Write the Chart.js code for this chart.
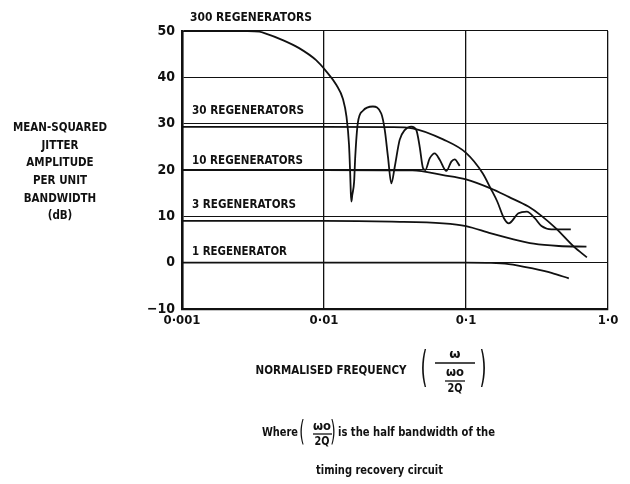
<!DOCTYPE html>
<html>
<head>
<meta charset="utf-8">
<script src="https://cdn.jsdelivr.net/npm/chart.js@4.4.1/dist/chart.umd.min.js"></script>
<style>
  html, body { margin: 0; padding: 0; background: #fff; }
  #wrap { width: 630px; height: 484px; position: relative; }
</style>
</head>
<body>
<div id="wrap"><canvas id="c" width="630" height="484"></canvas></div>
<script>
// Tick labels
const xTickValues = [0.001, 0.01, 0.1, 1];
const xTickLabels = ['0·001', '0·01', '0·1', '1·0'];
const yTickLabels = ['−10', '0', '10', '20', '30', '40', '50'];

// Jitter spectra (dB) against normalised frequency, one pair of arrays per chain length
const freq1 = [0.001, 0.01, 0.1, 0.15, 0.2, 0.3, 0.4, 0.53];
const db1   = [0, 0, 0, -0.05, -0.3, -1.3, -2.2, -3.4];

const freq3 = [0.001, 0.01, 0.03, 0.069, 0.1, 0.15, 0.2, 0.3, 0.45, 0.705];
const db3   = [9.0, 9.0, 8.85, 8.5, 7.9, 6.3, 5.3, 4.1, 3.6, 3.45];

const freq10 = [0.001, 0.01, 0.042, 0.069, 0.1, 0.149, 0.2, 0.275, 0.34, 0.43, 0.575, 0.71];
const db10   = [20, 20, 19.9, 18.9, 18.0, 16.05, 14.2, 12.1, 10.1, 7.4, 3.45, 1.15];

const freq30 = [0.001, 0.01, 0.03, 0.042, 0.069, 0.1, 0.131, 0.149, 0.166, 0.185, 0.2, 0.234, 0.268, 0.305, 0.34, 0.4, 0.547];
const db30   = [29.3, 29.3, 29.25, 29.0, 26.6, 23.7, 19.3, 16.05, 13.2, 9.6, 8.5, 10.65, 11.0, 9.6, 7.9, 7.2, 7.2];

const freq300 = [0.001, 0.0029, 0.0035, 0.00385, 0.00507, 0.00668, 0.0088, 0.0103, 0.0122, 0.0136,
                 0.0144, 0.0150, 0.0153, 0.01545, 0.0156, 0.0158, 0.0163, 0.0166, 0.0173, 0.0188,
                 0.0221, 0.0253, 0.0268, 0.0282, 0.0298, 0.0315, 0.0341, 0.037, 0.0412, 0.0447,
                 0.0472, 0.0498, 0.0517, 0.0555, 0.0602, 0.0653, 0.0727, 0.0788, 0.0832, 0.0903];
const db300   = [50, 50, 49.85, 49.5, 48.1, 46.3, 43.7, 41.4, 38.4, 35.3,
                 31.5, 25.5, 19, 15, 13.2, 14.5, 17.5, 22.9, 30.1, 32.8,
                 33.7, 32.2, 28.6, 22.9, 17.1, 20.7, 26.5, 28.6, 29.35, 28.6,
                 25.0, 20.4, 20.0, 22.5, 23.6, 22.2, 19.8, 21.8, 22.3, 20.9];

const seriesNames = ['1 REGENERATOR', '3 REGENERATORS', '10 REGENERATORS', '30 REGENERATORS', '300 REGENERATORS'];
const seriesFreq = [freq1, freq3, freq10, freq30, freq300];
const seriesDb = [db1, db3, db10, db30, db300];

const INK = '#111';
const COND = '"DejaVu Sans Condensed", "DejaVu Sans", sans-serif';

const datasets = seriesNames.map((name, k) => ({
  label: name,
  data: seriesFreq[k].map((f, i) => ({ x: f, y: seriesDb[k][i] })),
  borderColor: INK,
  borderWidth: 1.8,
  pointRadius: 0,
  fill: false,
  cubicInterpolationMode: 'monotone'
}));

// Curve names sit just above each low-frequency plateau (left edge, width, level in dB)
const curveLabels = [
  { text: '300 REGENERATORS', x: 190, w: 122, at: 52.9 },
  { text: '30 REGENERATORS', x: 192, w: 112, at: 32.7 },
  { text: '10 REGENERATORS', x: 192, w: 111, at: 21.9 },
  { text: '3 REGENERATORS', x: 192, w: 104, at: 12.4 },
  { text: '1 REGENERATOR', x: 192, w: 95, at: 2.3 }
];

// Draws text squeezed horizontally so it spans the given width
function fitText(ctx, text, x, y, width, align) {
  const natural = ctx.measureText(text).width;
  const k = width / natural;
  ctx.save();
  ctx.translate(x, y);
  ctx.scale(k, 1);
  ctx.textAlign = align;
  ctx.fillText(text, 0, 0);
  ctx.restore();
}

function drawParen(ctx, ch, x, y, size, stretch) {
  ctx.save();
  ctx.translate(x, y);
  ctx.scale(1, stretch);
  ctx.font = size + 'px "DejaVu Sans", sans-serif';
  ctx.textAlign = 'center';
  ctx.textBaseline = 'middle';
  ctx.fillText(ch, 0, 0);
  ctx.restore();
}

function bar(ctx, x0, x1, y) {
  ctx.beginPath();
  ctx.moveTo(x0, y);
  ctx.lineTo(x1, y);
  ctx.stroke();
}

const textPlugin = {
  id: 'figureText',
  afterDraw(chart) {
    const ctx = chart.ctx;
    const ys = chart.scales.y;
    ctx.save();
    ctx.fillStyle = INK;
    ctx.strokeStyle = INK;
    ctx.lineWidth = 1.3;

    // curve names
    ctx.font = 'bold 12px ' + COND;
    ctx.textBaseline = 'middle';
    curveLabels.forEach(l => fitText(ctx, l.text, l.x, ys.getPixelForValue(l.at), l.w, 'left'));

    // y-axis title
    ctx.font = 'bold 12.5px ' + COND;
    const yTitle = ['MEAN-SQUARED', 'JITTER', 'AMPLITUDE', 'PER UNIT', 'BANDWIDTH', '(dB)'];
    const squeeze = 94 / ctx.measureText(yTitle[0]).width;
    yTitle.forEach((t, i) => fitText(ctx, t, 60, 128 + i * 17.6, ctx.measureText(t).width * squeeze, 'center'));

    // x-axis title with the normalising fraction
    ctx.font = 'bold 12px ' + COND;
    fitText(ctx, 'NORMALISED FREQUENCY', 331, 371, 151, 'center');
    drawParen(ctx, '(', 424, 371, 18, 2.35);
    drawParen(ctx, ')', 483, 371, 18, 2.35);
    ctx.textAlign = 'center';
    ctx.font = 'bold 13px "DejaVu Sans", sans-serif';
    ctx.fillText('ω', 455, 355);
    bar(ctx, 435, 475, 363);
    ctx.font = 'bold 12px ' + COND;
    fitText(ctx, 'ωo', 455, 373, 18, 'center');
    bar(ctx, 445, 465, 381);
    fitText(ctx, '2Q', 455, 389, 15, 'center');

    // footnote
    ctx.font = 'bold 13px ' + COND;
    ctx.textBaseline = 'alphabetic';
    fitText(ctx, 'Where', 262, 436, 36, 'left');
    drawParen(ctx, '(', 302, 434, 14, 2.0);
    drawParen(ctx, ')', 333, 434, 14, 2.0);
    ctx.textBaseline = 'middle';
    ctx.font = 'bold 12px ' + COND;
    fitText(ctx, 'ωo', 322, 427, 18, 'center');
    bar(ctx, 313, 332, 434);
    fitText(ctx, '2Q', 322, 442, 15, 'center');
    ctx.font = 'bold 13px ' + COND;
    ctx.textBaseline = 'alphabetic';
    fitText(ctx, 'is the half bandwidth of the', 338, 436, 157, 'left');
    fitText(ctx, 'timing recovery circuit', 316, 474, 127, 'left');
    ctx.restore();
  }
};

new Chart(document.getElementById('c'), {
  type: 'line',
  data: { datasets },
  plugins: [textPlugin],
  options: {
    responsive: false,
    animation: false,
    devicePixelRatio: 1,
    layout: { padding: { top: 31, right: 22, bottom: 0, left: 0 } },
    plugins: { legend: { display: false }, tooltip: { enabled: false } },
    scales: {
      x: {
        type: 'logarithmic',
        min: 0.001,
        max: 1,
        afterBuildTicks: s => { s.ticks = xTickValues.map(v => ({ value: v })); },
        afterFit: s => { s.height = 175; },
        grid: { color: INK, lineWidth: 1.3, drawTicks: false },
        border: { display: true, color: INK, width: 2.2 },
        ticks: {
          autoSkip: false,
          maxRotation: 0,
          padding: 4,
          color: INK,
          font: { family: COND, size: 13, weight: 'bold' },
          callback: (v, i) => xTickLabels[i]
        }
      },
      y: {
        type: 'linear',
        min: -10,
        max: 50,
        afterFit: s => { s.width = 182; },
        grid: { color: INK, lineWidth: 1.1, drawTicks: false },
        border: { display: true, color: INK, width: 2.6 },
        ticks: {
          stepSize: 10,
          padding: 7,
          color: INK,
          font: { family: COND, size: 14, weight: 'bold' },
          callback: (v, i) => yTickLabels[i]
        }
      }
    }
  }
});
</script>
</body>
</html>
